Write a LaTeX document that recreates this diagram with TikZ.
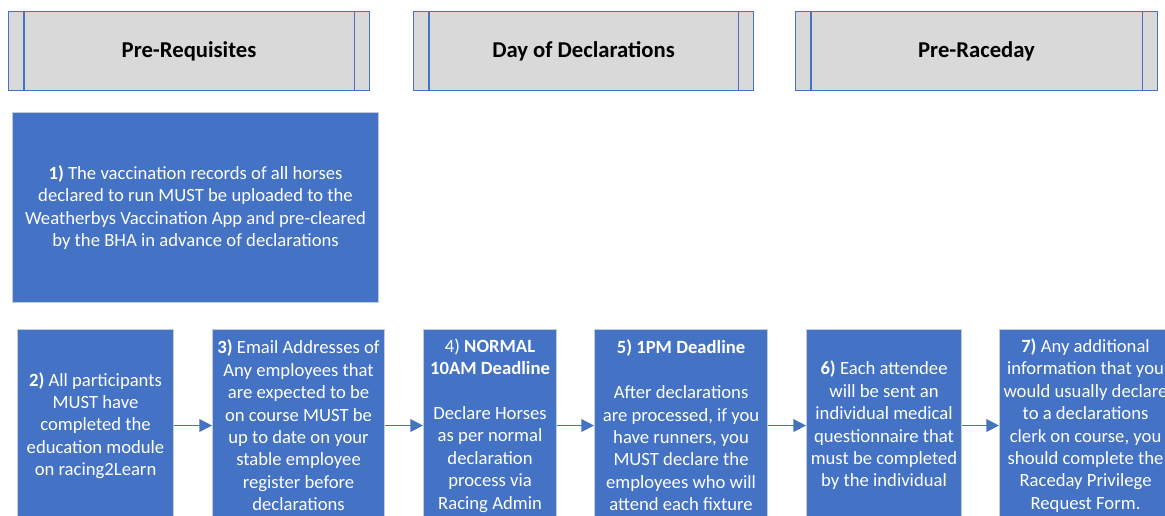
\documentclass[tikz,border=0pt]{standalone}
\usepackage{fontspec}
\setmainfont{Carlito}
\usetikzlibrary{arrows.meta}
\definecolor{bblue}{HTML}{4472C4}
\definecolor{hgray}{HTML}{D9D9D9}
\definecolor{bedge}{HTML}{C3CCDF}
\tikzset{
  hdr/.style={draw=bblue, line width=0.8pt, fill=hgray, anchor=north west, inner sep=0pt,
    minimum height=79*0.75pt, font=\fontsize{17}{20}\selectfont\bfseries},
  stepbox/.style={draw=bedge, line width=0.8pt, fill=bblue, text=white, align=center,
    anchor=north west, inner sep=0pt, font=\fontsize{14}{16.8}\selectfont},
  arr/.style={draw=bblue, line width=1.2pt, -{Triangle[length=9.5pt,width=9.5pt]}}
}
\begin{document}
\begin{tikzpicture}[x=0.75pt,y=-0.75pt]
\useasboundingbox (0,0) rectangle (1165,516);
\clip (0,0) rectangle (1165,516);
\fill[white] (0,0) rectangle (1165,516);
% headers
\node[hdr, minimum width=361*0.75pt] (h1) at (8,11) {Pre-Requisites};
\node[hdr, minimum width=340*0.75pt] (h2) at (413,11) {Day of Declarations};
\node[hdr, minimum width=362*0.75pt] (h3) at (795,11) {Pre-Raceday};
\foreach \h in {h1,h2,h3}{
  \draw[bblue, line width=0.8pt] ([xshift=12pt]\h.north west) -- ([xshift=12pt]\h.south west);
  \draw[bblue, line width=0.8pt] ([xshift=-12pt]\h.north east) -- ([xshift=-12pt]\h.south east);
}
% step boxes
\node[stepbox, minimum width=366*0.75pt, minimum height=190*0.75pt] (b1) at (12,112)
  {\textbf{1)} The vaccination records of all horses\\declared to run MUST be uploaded to the\\Weatherbys Vaccination App and pre-cleared\\by the BHA in advance of declarations};
\node[stepbox, minimum width=156*0.75pt, minimum height=192*0.75pt] (b2) at (17,329)
  {\textbf{2)} All participants\\MUST have\\completed the\\education module\\on racing2Learn};
\node[stepbox, minimum width=172*0.75pt, minimum height=192*0.75pt] (b3) at (212,329)
  {\textbf{3)} Email Addresses of\\Any employees that\\are expected to be\\on course MUST be\\up to date on your\\stable employee\\register before\\declarations};
\node[stepbox, minimum width=133*0.75pt, minimum height=192*0.75pt] (b4) at (423,329)
  {4) \textbf{NORMAL}\\\textbf{10AM Deadline}\\[16.8pt]Declare Horses\\as per normal\\declaration\\process via\\Racing Admin};
\node[stepbox, minimum width=173*0.75pt, minimum height=192*0.75pt] (b5) at (594,329)
  {\textbf{5) 1PM Deadline}\\[16.8pt]After declarations\\are processed, if you\\have runners, you\\MUST declare the\\employees who will\\attend each fixture};
\node[stepbox, minimum width=155*0.75pt, minimum height=192*0.75pt] (b6) at (806,329)
  {\textbf{6)} Each attendee\\will be sent an\\individual medical\\questionnaire that\\must be completed\\by the individual};
\node[stepbox, minimum width=172*0.75pt, minimum height=192*0.75pt] (b7) at (999,329)
  {\textbf{7)} Any additional\\information that you\\would usually declare\\to a declarations\\clerk on course, you\\should complete the\\Raceday Privilege\\Request Form.};
% connectors
\draw[arr] (b2.east) -- (b3.west);
\draw[arr] (b3.east) -- (b4.west);
\draw[arr] (b4.east) -- (b5.west);
\draw[arr] (b5.east) -- (b6.west);
\draw[arr] (b6.east) -- (b7.west);
\end{tikzpicture}
\end{document}
